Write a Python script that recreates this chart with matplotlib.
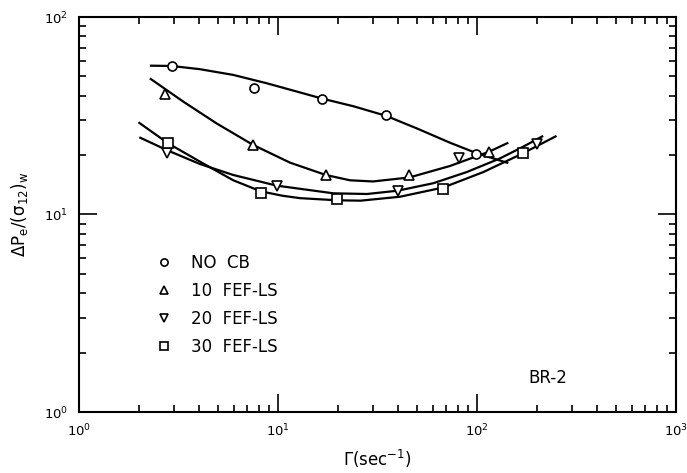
import matplotlib
matplotlib.use("Agg")
import matplotlib.pyplot as plt
from matplotlib.ticker import LogLocator, NullFormatter

plt.rcParams['font.family'] = ['DejaVu Sans']
plt.rcParams['mathtext.default'] = 'regular'

# ---- data points (shear rate Gamma, dPe/(sigma12)w) ----
nocb_x = [2.92, 7.6, 16.7, 34.9, 98.9]
nocb_y = [56.5, 43.9, 38.3, 31.9, 20.2]
fef10_x = [2.71, 7.5, 17.4, 45.7, 115]
fef10_y = [40.6, 22.5, 15.85, 15.85, 20.8]
fef20_x = [2.76, 9.85, 40.0, 81.2, 199.5]
fef20_y = [20.6, 14.0, 13.2, 19.4, 22.7]
fef30_x = [2.81, 8.2, 19.9, 67.7, 170]
fef30_y = [22.9, 12.9, 12.0, 13.4, 20.4]

# ---- smooth curves ----
nocb_cx = [2.27, 2.92, 4.06, 5.96, 8.77, 12.9, 16.7, 24.0, 34.9, 49.8, 73.1, 100, 143.7]
nocb_cy = [56.7, 56.5, 54.4, 50.9, 46.2, 41.5, 38.6, 35.3, 31.6, 27.3, 23.1, 20.4, 18.2]
fef10_cx = [2.27, 3.34, 4.92, 7.5, 11.5, 17.4, 23.0, 30.0, 45.7, 73.1, 115, 143.7]
fef10_cy = [48.9, 37.3, 28.9, 22.5, 18.3, 15.85, 14.9, 14.7, 15.4, 17.6, 20.8, 23.1]
fef20_cx = [2.01, 2.76, 4.06, 5.96, 9.85, 19.0, 28.0, 40.0, 60.3, 88.8, 130, 170, 215]
fef20_cy = [24.6, 21.2, 18.0, 15.85, 14.0, 12.8, 12.7, 13.2, 14.4, 16.4, 19.2, 22.0, 25.0]
fef30_cx = [1.99, 2.81, 4.06, 5.96, 8.2, 10.5, 12.9, 19.9, 26.0, 41.0, 67.7, 107.6, 170, 251]
fef30_cy = [29.3, 22.9, 18.5, 14.9, 13.1, 12.45, 12.1, 11.8, 11.75, 12.3, 13.7, 16.4, 20.4, 25.0]

labels = ['NO  CB', '10  FEF-LS', '20  FEF-LS', '30  FEF-LS']

fig = plt.figure(figsize=(6.87, 4.73), dpi=100)
ax = fig.add_axes([79/687, 1-412/473, 597/687, 395/473])

lw = 1.6
for cx, cy in [(nocb_cx, nocb_cy), (fef10_cx, fef10_cy), (fef20_cx, fef20_cy), (fef30_cx, fef30_cy)]:
    ax.plot(cx, cy, color='black', lw=lw, solid_capstyle='butt',
            solid_joinstyle='round', zorder=2)

mk = dict(linestyle='none', markerfacecolor='white', markeredgecolor='black',
          markeredgewidth=1.2, zorder=3)
h1, = ax.plot(nocb_x, nocb_y, marker='o', markersize=6.5, **mk)
h2, = ax.plot(fef10_x, fef10_y, marker='^', markersize=7.5, **mk)
h3, = ax.plot(fef20_x, fef20_y, marker='v', markersize=7.5, **mk)
h4, = ax.plot(fef30_x, fef30_y, marker='s', markersize=6.5, **mk)

ax.set_xscale('log')
ax.set_yscale('log')
ax.set_xlim(1, 1000)
ax.set_ylim(1, 100)

for a in (ax.xaxis, ax.yaxis):
    a.set_major_locator(LogLocator(base=10, numticks=10))
    a.set_minor_locator(LogLocator(base=10, subs=range(2, 10), numticks=20))
    a.set_minor_formatter(NullFormatter())

ax.tick_params(which='both', direction='in', top=True, right=True, width=1.2)
ax.tick_params(which='major', length=13, labelsize=9.5, pad=8)
ax.tick_params(which='minor', length=5)
for s in ax.spines.values():
    s.set_linewidth(1.5)

ax.set_xlabel(r'$\Gamma$(sec$^{-1}$)', fontsize=12, labelpad=6)
ax.set_ylabel(r'$\Delta P_e/(σ_{12})_w$', fontsize=12, labelpad=10)

leg = ax.legend([h1, h2, h3, h4], labels, loc='upper left',
                bbox_to_anchor=((156 - 79) / 597, (412 - 254) / 395),
                frameon=False, fontsize=12, handlelength=1.0, handletextpad=1.1,
                labelspacing=0.6, borderpad=0, borderaxespad=0, markerscale=0.8)

ax.text((548 - 79) / 597, (412 - 378) / 395, 'BR-2', transform=ax.transAxes,
        fontsize=12, ha='center', va='center')

fig.savefig('out.png', dpi=100, facecolor='white')
